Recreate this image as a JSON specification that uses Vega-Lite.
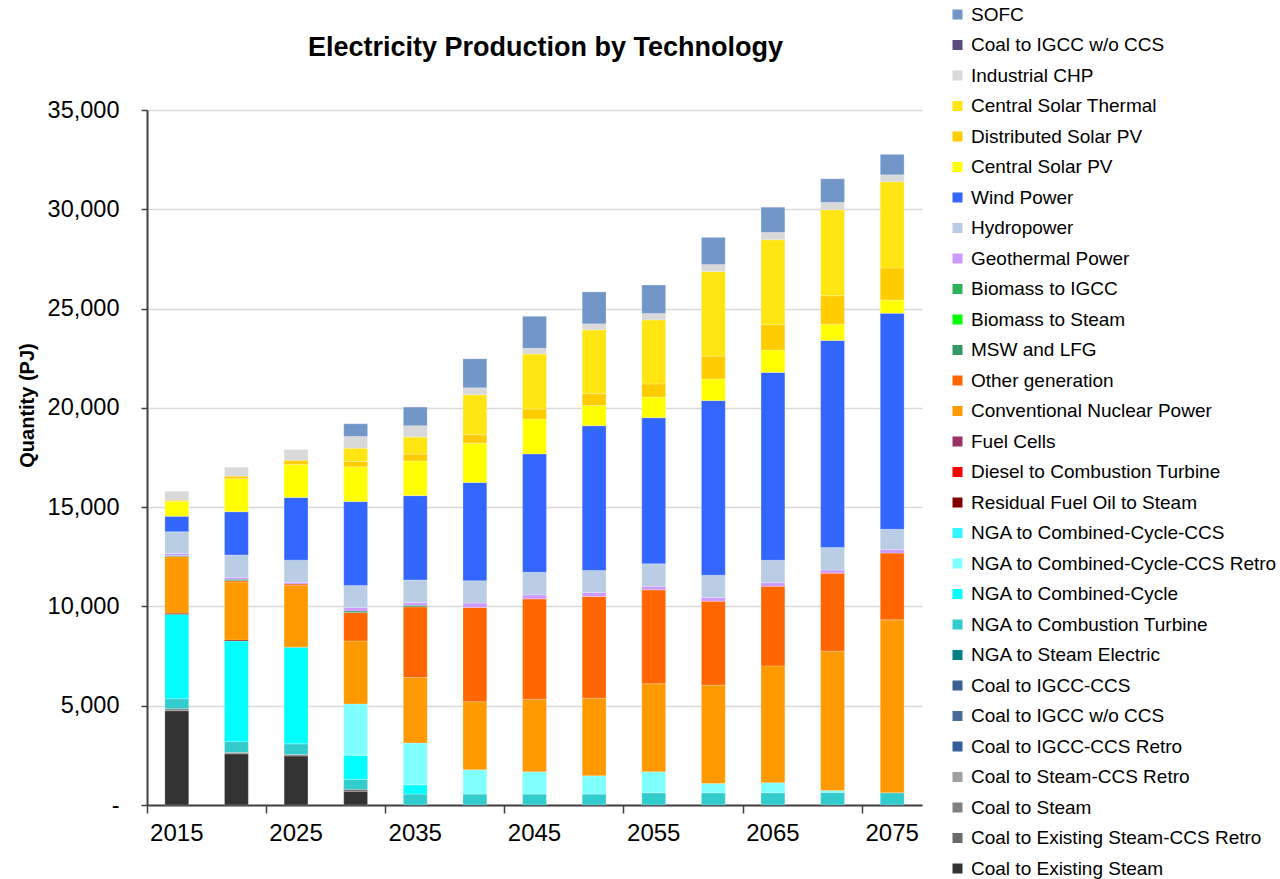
{
  "$schema": "https://vega.github.io/schema/vega-lite/v6.json",
  "width": 775,
  "height": 695,
  "autosize": {"type": "none"},
  "padding": {"left": 147, "top": 110, "right": 358, "bottom": 74},
  "background": "white",
  "config": {"view": {"stroke": null}, "font": "Liberation Sans"},
  "title": {"text": "Electricity Production by Technology", "fontSize": 27, "fontWeight": "bold", "font": "Liberation Sans", "color": "#000000", "anchor": "middle", "dx": 11, "offset": -57},
  "data": {"values": [
    {"year": 2015, "tech": "Coal to Existing Steam", "value": 4750},
    {"year": 2015, "tech": "Coal to Steam", "value": 100},
    {"year": 2015, "tech": "NGA to Combustion Turbine", "value": 500},
    {"year": 2015, "tech": "NGA to Combined-Cycle", "value": 4250},
    {"year": 2015, "tech": "Residual Fuel Oil to Steam", "value": 60},
    {"year": 2015, "tech": "Conventional Nuclear Power", "value": 2850},
    {"year": 2015, "tech": "MSW and LFG", "value": 50},
    {"year": 2015, "tech": "Geothermal Power", "value": 100},
    {"year": 2015, "tech": "Hydropower", "value": 1100},
    {"year": 2015, "tech": "Wind Power", "value": 780},
    {"year": 2015, "tech": "Central Solar PV", "value": 750},
    {"year": 2015, "tech": "Distributed Solar PV", "value": 60},
    {"year": 2015, "tech": "Industrial CHP", "value": 450},

    {"year": 2020, "tech": "Coal to Existing Steam", "value": 2580},
    {"year": 2020, "tech": "Coal to Steam", "value": 70},
    {"year": 2020, "tech": "NGA to Combustion Turbine", "value": 540},
    {"year": 2020, "tech": "NGA to Combined-Cycle", "value": 5070},
    {"year": 2020, "tech": "Residual Fuel Oil to Steam", "value": 50},
    {"year": 2020, "tech": "Conventional Nuclear Power", "value": 2920},
    {"year": 2020, "tech": "Other generation", "value": 70},
    {"year": 2020, "tech": "MSW and LFG", "value": 70},
    {"year": 2020, "tech": "Geothermal Power", "value": 100},
    {"year": 2020, "tech": "Hydropower", "value": 1120},
    {"year": 2020, "tech": "Wind Power", "value": 2180},
    {"year": 2020, "tech": "Central Solar PV", "value": 1660},
    {"year": 2020, "tech": "Distributed Solar PV", "value": 130},
    {"year": 2020, "tech": "Industrial CHP", "value": 450},

    {"year": 2025, "tech": "Coal to Existing Steam", "value": 2470},
    {"year": 2025, "tech": "Coal to Steam", "value": 70},
    {"year": 2025, "tech": "NGA to Combustion Turbine", "value": 540},
    {"year": 2025, "tech": "NGA to Combined-Cycle", "value": 4870},
    {"year": 2025, "tech": "Conventional Nuclear Power", "value": 3100},
    {"year": 2025, "tech": "Other generation", "value": 80},
    {"year": 2025, "tech": "Geothermal Power", "value": 80},
    {"year": 2025, "tech": "Hydropower", "value": 1120},
    {"year": 2025, "tech": "Wind Power", "value": 3160},
    {"year": 2025, "tech": "Central Solar PV", "value": 1670},
    {"year": 2025, "tech": "Distributed Solar PV", "value": 200},
    {"year": 2025, "tech": "Industrial CHP", "value": 540},

    {"year": 2030, "tech": "Coal to Existing Steam", "value": 690},
    {"year": 2030, "tech": "Coal to Existing Steam-CCS Retro", "value": 100},
    {"year": 2030, "tech": "NGA to Combustion Turbine", "value": 500},
    {"year": 2030, "tech": "NGA to Combined-Cycle", "value": 1210},
    {"year": 2030, "tech": "NGA to Combined-Cycle-CCS Retro", "value": 2590},
    {"year": 2030, "tech": "Conventional Nuclear Power", "value": 3170},
    {"year": 2030, "tech": "Other generation", "value": 1430},
    {"year": 2030, "tech": "MSW and LFG", "value": 80},
    {"year": 2030, "tech": "Geothermal Power", "value": 170},
    {"year": 2030, "tech": "Hydropower", "value": 1110},
    {"year": 2030, "tech": "Wind Power", "value": 4230},
    {"year": 2030, "tech": "Central Solar PV", "value": 1750},
    {"year": 2030, "tech": "Distributed Solar PV", "value": 270},
    {"year": 2030, "tech": "Central Solar Thermal", "value": 670},
    {"year": 2030, "tech": "Industrial CHP", "value": 590},
    {"year": 2030, "tech": "SOFC", "value": 640},

    {"year": 2035, "tech": "NGA to Combustion Turbine", "value": 550},
    {"year": 2035, "tech": "NGA to Combined-Cycle", "value": 470},
    {"year": 2035, "tech": "NGA to Combined-Cycle-CCS Retro", "value": 2100},
    {"year": 2035, "tech": "Conventional Nuclear Power", "value": 3300},
    {"year": 2035, "tech": "Other generation", "value": 3560},
    {"year": 2035, "tech": "MSW and LFG", "value": 80},
    {"year": 2035, "tech": "Geothermal Power", "value": 130},
    {"year": 2035, "tech": "Hydropower", "value": 1140},
    {"year": 2035, "tech": "Wind Power", "value": 4250},
    {"year": 2035, "tech": "Central Solar PV", "value": 1750},
    {"year": 2035, "tech": "Distributed Solar PV", "value": 340},
    {"year": 2035, "tech": "Central Solar Thermal", "value": 860},
    {"year": 2035, "tech": "Industrial CHP", "value": 570},
    {"year": 2035, "tech": "SOFC", "value": 940},

    {"year": 2040, "tech": "NGA to Combustion Turbine", "value": 550},
    {"year": 2040, "tech": "NGA to Combined-Cycle-CCS Retro", "value": 1220},
    {"year": 2040, "tech": "Conventional Nuclear Power", "value": 3430},
    {"year": 2040, "tech": "Other generation", "value": 4750},
    {"year": 2040, "tech": "Geothermal Power", "value": 220},
    {"year": 2040, "tech": "Hydropower", "value": 1120},
    {"year": 2040, "tech": "Wind Power", "value": 4950},
    {"year": 2040, "tech": "Central Solar PV", "value": 1980},
    {"year": 2040, "tech": "Distributed Solar PV", "value": 420},
    {"year": 2040, "tech": "Central Solar Thermal", "value": 2020},
    {"year": 2040, "tech": "Industrial CHP", "value": 350},
    {"year": 2040, "tech": "SOFC", "value": 1460},

    {"year": 2045, "tech": "NGA to Combustion Turbine", "value": 550},
    {"year": 2045, "tech": "NGA to Combined-Cycle-CCS Retro", "value": 1120},
    {"year": 2045, "tech": "Conventional Nuclear Power", "value": 3660},
    {"year": 2045, "tech": "Other generation", "value": 5050},
    {"year": 2045, "tech": "Geothermal Power", "value": 200},
    {"year": 2045, "tech": "Hydropower", "value": 1140},
    {"year": 2045, "tech": "Wind Power", "value": 5960},
    {"year": 2045, "tech": "Central Solar PV", "value": 1760},
    {"year": 2045, "tech": "Distributed Solar PV", "value": 500},
    {"year": 2045, "tech": "Central Solar Thermal", "value": 2770},
    {"year": 2045, "tech": "Industrial CHP", "value": 290},
    {"year": 2045, "tech": "SOFC", "value": 1610},

    {"year": 2050, "tech": "NGA to Combustion Turbine", "value": 550},
    {"year": 2050, "tech": "NGA to Combined-Cycle-CCS Retro", "value": 920},
    {"year": 2050, "tech": "Conventional Nuclear Power", "value": 3910},
    {"year": 2050, "tech": "Other generation", "value": 5120},
    {"year": 2050, "tech": "Geothermal Power", "value": 200},
    {"year": 2050, "tech": "Hydropower", "value": 1110},
    {"year": 2050, "tech": "Wind Power", "value": 7290},
    {"year": 2050, "tech": "Central Solar PV", "value": 1020},
    {"year": 2050, "tech": "Distributed Solar PV", "value": 590},
    {"year": 2050, "tech": "Central Solar Thermal", "value": 3220},
    {"year": 2050, "tech": "Industrial CHP", "value": 300},
    {"year": 2050, "tech": "SOFC", "value": 1610},

    {"year": 2055, "tech": "NGA to Combustion Turbine", "value": 615},
    {"year": 2055, "tech": "NGA to Combined-Cycle-CCS Retro", "value": 1060},
    {"year": 2055, "tech": "Conventional Nuclear Power", "value": 4430},
    {"year": 2055, "tech": "Other generation", "value": 4730},
    {"year": 2055, "tech": "Geothermal Power", "value": 180},
    {"year": 2055, "tech": "Hydropower", "value": 1130},
    {"year": 2055, "tech": "Wind Power", "value": 7360},
    {"year": 2055, "tech": "Central Solar PV", "value": 1040},
    {"year": 2055, "tech": "Distributed Solar PV", "value": 660},
    {"year": 2055, "tech": "Central Solar Thermal", "value": 3220},
    {"year": 2055, "tech": "Industrial CHP", "value": 330},
    {"year": 2055, "tech": "SOFC", "value": 1430},

    {"year": 2060, "tech": "NGA to Combustion Turbine", "value": 615},
    {"year": 2060, "tech": "NGA to Combined-Cycle-CCS Retro", "value": 470},
    {"year": 2060, "tech": "Conventional Nuclear Power", "value": 4950},
    {"year": 2060, "tech": "Other generation", "value": 4230},
    {"year": 2060, "tech": "Geothermal Power", "value": 180},
    {"year": 2060, "tech": "Hydropower", "value": 1130},
    {"year": 2060, "tech": "Wind Power", "value": 8790},
    {"year": 2060, "tech": "Central Solar PV", "value": 1090},
    {"year": 2060, "tech": "Distributed Solar PV", "value": 1150},
    {"year": 2060, "tech": "Central Solar Thermal", "value": 4260},
    {"year": 2060, "tech": "Industrial CHP", "value": 350},
    {"year": 2060, "tech": "SOFC", "value": 1370},

    {"year": 2065, "tech": "NGA to Combustion Turbine", "value": 615},
    {"year": 2065, "tech": "NGA to Combined-Cycle-CCS Retro", "value": 510},
    {"year": 2065, "tech": "Conventional Nuclear Power", "value": 5880},
    {"year": 2065, "tech": "Other generation", "value": 4010},
    {"year": 2065, "tech": "Geothermal Power", "value": 180},
    {"year": 2065, "tech": "Hydropower", "value": 1130},
    {"year": 2065, "tech": "Wind Power", "value": 9460},
    {"year": 2065, "tech": "Central Solar PV", "value": 1130},
    {"year": 2065, "tech": "Distributed Solar PV", "value": 1270},
    {"year": 2065, "tech": "Central Solar Thermal", "value": 4280},
    {"year": 2065, "tech": "Industrial CHP", "value": 370},
    {"year": 2065, "tech": "SOFC", "value": 1270},

    {"year": 2070, "tech": "NGA to Combustion Turbine", "value": 635},
    {"year": 2070, "tech": "NGA to Combined-Cycle-CCS Retro", "value": 100},
    {"year": 2070, "tech": "Conventional Nuclear Power", "value": 7010},
    {"year": 2070, "tech": "Other generation", "value": 3930},
    {"year": 2070, "tech": "Geothermal Power", "value": 160},
    {"year": 2070, "tech": "Hydropower", "value": 1130},
    {"year": 2070, "tech": "Wind Power", "value": 10430},
    {"year": 2070, "tech": "Central Solar PV", "value": 820},
    {"year": 2070, "tech": "Distributed Solar PV", "value": 1430},
    {"year": 2070, "tech": "Central Solar Thermal", "value": 4330},
    {"year": 2070, "tech": "Industrial CHP", "value": 370},
    {"year": 2070, "tech": "SOFC", "value": 1190},

    {"year": 2075, "tech": "NGA to Combustion Turbine", "value": 615},
    {"year": 2075, "tech": "Conventional Nuclear Power", "value": 8710},
    {"year": 2075, "tech": "Other generation", "value": 3360},
    {"year": 2075, "tech": "Geothermal Power", "value": 180},
    {"year": 2075, "tech": "Hydropower", "value": 1020},
    {"year": 2075, "tech": "Wind Power", "value": 10880},
    {"year": 2075, "tech": "Central Solar PV", "value": 660},
    {"year": 2075, "tech": "Distributed Solar PV", "value": 1620},
    {"year": 2075, "tech": "Central Solar Thermal", "value": 4340},
    {"year": 2075, "tech": "Industrial CHP", "value": 350},
    {"year": 2075, "tech": "SOFC", "value": 1030}
  ]},
  "transform": [
    {"calculate": "indexof(['SOFC','Coal to IGCC w/o CCS ','Industrial CHP','Central Solar Thermal','Distributed Solar PV','Central Solar PV','Wind Power','Hydropower','Geothermal Power','Biomass to IGCC','Biomass to Steam','MSW and LFG','Other generation','Conventional Nuclear Power','Fuel Cells','Diesel to Combustion Turbine','Residual Fuel Oil to Steam','NGA to Combined-Cycle-CCS','NGA to Combined-Cycle-CCS Retro','NGA to Combined-Cycle','NGA to Combustion Turbine','NGA to Steam Electric','Coal to IGCC-CCS','Coal to IGCC w/o CCS','Coal to IGCC-CCS Retro','Coal to Steam-CCS Retro','Coal to Steam','Coal to Existing Steam-CCS Retro','Coal to Existing Steam'], datum.tech)", "as": "rank"}
  ],
  "mark": {"type": "bar", "stroke": "#ffffff", "strokeWidth": 0.4, "strokeOpacity": 0.6},
  "encoding": {
    "x": {
      "field": "year", "type": "ordinal",
      "scale": {"paddingInner": 0.6, "paddingOuter": 0.3},
      "axis": {
        "title": null, "values": [2015, 2025, 2035, 2045, 2055, 2065, 2075],
        "bandPosition": -0.75, "labelOffset": 0, "labelAngle": 0, "labelAlign": "center",
        "labelFont": "Liberation Sans", "labelFontSize": 24, "labelColor": "#000000",
        "labelPadding": 8, "tickSize": 8, "tickColor": "#404040", "tickWidth": 1.5,
        "domainColor": "#404040", "domainWidth": 2, "grid": false
      }
    },
    "y": {
      "field": "value", "type": "quantitative", "stack": "zero",
      "scale": {"domain": [0, 35000], "nice": false},
      "axis": {
        "values": [0, 5000, 10000, 15000, 20000, 25000, 30000, 35000],
        "labelExpr": "datum.value == 0 ? '-' : format(datum.value, ',')",
        "labelFont": "Liberation Sans", "labelFontSize": 23.5, "labelColor": "#000000",
        "labelPadding": 22, "tickSize": 6, "tickColor": "#404040", "tickWidth": 1.5,
        "domainColor": "#404040", "domainWidth": 2,
        "grid": true, "gridColor": "#D9D9D9", "gridWidth": 1.5,
        "title": "Quantity (PJ)", "titleFont": "Liberation Sans", "titleFontSize": 20,
        "titleFontWeight": "bold", "titleColor": "#000000",
        "titleAngle": -90, "titleX": -120, "titleY": 295, "titleBaseline": "middle", "titleAlign": "center"
      }
    },
    "color": {
      "field": "tech", "type": "nominal",
      "scale": {
        "domain": ["SOFC","Coal to IGCC w/o CCS ","Industrial CHP","Central Solar Thermal","Distributed Solar PV","Central Solar PV","Wind Power","Hydropower","Geothermal Power","Biomass to IGCC","Biomass to Steam","MSW and LFG","Other generation","Conventional Nuclear Power","Fuel Cells","Diesel to Combustion Turbine","Residual Fuel Oil to Steam","NGA to Combined-Cycle-CCS","NGA to Combined-Cycle-CCS Retro","NGA to Combined-Cycle","NGA to Combustion Turbine","NGA to Steam Electric","Coal to IGCC-CCS","Coal to IGCC w/o CCS","Coal to IGCC-CCS Retro","Coal to Steam-CCS Retro","Coal to Steam","Coal to Existing Steam-CCS Retro","Coal to Existing Steam"],
        "range": ["#7396C8","#5B4A7D","#D9D9D9","#FFE512","#FFCC00","#FFFF00","#3366FF","#B9CDE5","#CC99FF","#2DB05A","#00FF00","#339966","#FF6600","#FF9900","#993366","#FF0000","#800000","#33F5FF","#80FFFF","#00FFFF","#33CCCC","#008080","#3B5F8F","#4A6A96","#335E9A","#A0A0A0","#808080","#6A6A6A","#333333"]
      },
      "legend": {
        "orient": "none", "legendX": 801, "legendY": -105, "title": null, "padding": 0,
        "labelFont": "Liberation Sans", "labelFontSize": 19, "labelColor": "#000000", "labelLimit": 400,
        "labelOffset": 4, "symbolType": "square", "symbolSize": 100, "symbolStrokeWidth": 0,
        "rowPadding": 10.5, "symbolOpacity": 1
      }
    },
    "order": {"field": "rank", "type": "quantitative", "sort": "descending"}
  }
}
